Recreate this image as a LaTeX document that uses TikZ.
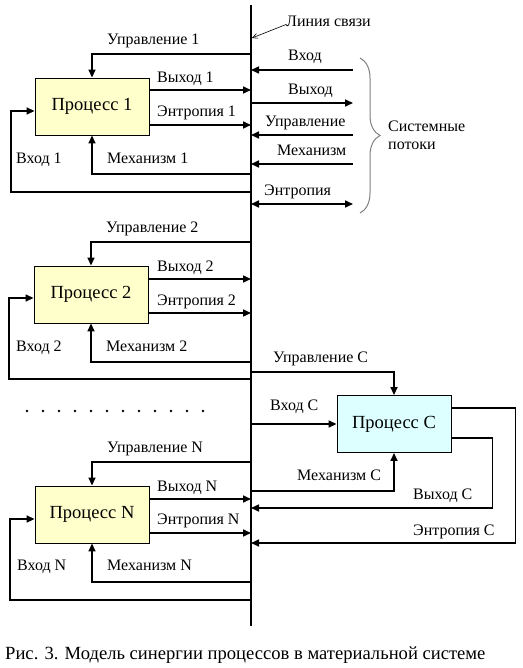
\documentclass[tikz,border=0pt]{standalone}
\usepackage{fontspec}
\setmainfont{Liberation Serif}
\usepackage{tikz}
\usetikzlibrary{arrows.meta, positioning, calc, decorations.pathreplacing}
\definecolor{procyellow}{RGB}{255,255,204}
\definecolor{proccyan}{RGB}{221,255,255}
\tikzset{
    proc_box/.style={
        rectangle, draw=black, line width=0.9pt, fill=procyellow,
        minimum width=114pt, minimum height=57pt,
        align=center, font=\fontsize{18.5}{22}\selectfont
    },
    proc_box_c/.style={
        proc_box, fill=proccyan
    },
    flow_arrow/.style={
        -{Triangle[length=8pt, width=7pt]}, draw=black, line width=1.6pt
    },
    flow_both/.style={
        {Triangle[length=8pt, width=7pt]}-{Triangle[length=8pt, width=7pt]},
        draw=black, line width=1.6pt
    },
    flow_line/.style={
        draw=black, line width=1.6pt
    },
    lbl/.style={
        anchor=west, inner sep=0pt, text height=0.7em, text depth=0.2em,
        yshift=-2.5pt, font=\fontsize{16}{18}\selectfont
    },
    brace_gray/.style={
        draw=gray, line width=1pt,
        decorate, decoration={brace, amplitude=20pt}
    }
}

\begin{document}
\begin{tikzpicture}[x=1pt, y=-1pt]
    \useasboundingbox (0,0) rectangle (522,668);

    % communication line
    \coordinate (busT) at (251,5);
    \coordinate (busB) at (251,626);
    \draw[flow_line] (busT) -- (busB);
    \node[lbl] (lsv) at (286,22) {Линия связи};
    \coordinate (lsvEnd) at (252,38);
    \draw[line width=0.6pt, -{Straight Barb[length=5pt, width=5pt]}] (lsv.west) -- (lsvEnd);

    % system flows
    \coordinate (sIn) at (353,70);
    \coordinate (sOut) at (353,103);
    \coordinate (sCtl) at (353,135);
    \coordinate (sMech) at (353,164);
    \coordinate (sEnt) at (353,204);
    \draw[flow_arrow] (sIn) -- (busT |- sIn);
    \draw[flow_arrow] (busT |- sOut) -- (sOut);
    \draw[flow_arrow] (sCtl) -- (busT |- sCtl);
    \draw[flow_arrow] (sMech) -- (busT |- sMech);
    \draw[flow_both] (busT |- sEnt) -- (sEnt);
    \node[lbl] (lIn) at (288,56) {Вход};
    \node[lbl] (lOut) at (288,90) {Выход};
    \node[lbl] (lCtl) at (265,122) {Управление};
    \node[lbl] (lMech) at (277,151) {Механизм};
    \node[lbl] (lEnt) at (264,191) {Энтропия};
    \coordinate (brT) at (360,58);
    \coordinate (brB) at (360,213);
    \draw[brace_gray] (brT) -- (brB);
    \node[lbl, align=left, text height=, text depth=] (sys) at (388,133) {Системные\\потоки};

    % process 1
    \node[proc_box] (p1) at (92,106.5) {Процесс 1};
    \coordinate (u1) at (251,54);
    \coordinate (y1) at (251,90);
    \coordinate (e1) at (251,125);
    \coordinate (m1) at (251,174);
    \coordinate (v1) at (251,192);
    \draw[flow_arrow] (u1) -| (p1.north);
    \draw[flow_arrow] (p1.east |- y1) -- (y1);
    \draw[flow_arrow] (p1.east |- e1) -- (e1);
    \draw[flow_arrow] (m1) -| (p1.south);
    \draw[flow_arrow] (v1) -- ++(-240,0) |- ([yshift=-4.5pt]p1.west);
    \node[lbl] (lu1) at (107,40) {Управление 1};
    \node[lbl] (ly1) at (157,78) {Выход 1};
    \node[lbl] (le1) at (157,112) {Энтропия 1};
    \node[lbl] (lm1) at (107,159) {Механизм 1};
    \node[lbl] (lv1) at (16,159) {Вход 1};

    % process 2
    \node[proc_box] (p2) at (91,294.5) {Процесс 2};
    \coordinate (u2) at (251,242);
    \coordinate (y2) at (251,279);
    \coordinate (e2) at (251,313);
    \coordinate (m2) at (251,362);
    \coordinate (v2) at (251,379);
    \draw[flow_arrow] (u2) -| (p2.north);
    \draw[flow_arrow] (p2.east |- y2) -- (y2);
    \draw[flow_arrow] (p2.east |- e2) -- (e2);
    \draw[flow_arrow] (m2) -| (p2.south);
    \draw[flow_arrow] (v2) -- ++(-242,0) |- ([yshift=-3.5pt]p2.west);
    \node[lbl] (lu2) at (106,227) {Управление 2};
    \node[lbl] (ly2) at (157,266) {Выход 2};
    \node[lbl] (le2) at (157,300) {Энтропия 2};
    \node[lbl] (lm2) at (106,346) {Механизм 2};
    \node[lbl] (lv2) at (16,346) {Вход 2};

    % dots
    \foreach \i in {0,...,11}
        \fill (27+16*\i,411) circle (1.4pt);

    % process C
    \node[proc_box_c] (pc) at (394,424) {Процесс С};
    \coordinate (uc) at (251,372);
    \coordinate (vc) at (251,424);
    \coordinate (mc) at (251,491);
    \coordinate (yc) at (251,508);
    \coordinate (ec) at (251,543);
    \draw[flow_arrow] (uc) -| (pc.north);
    \draw[flow_arrow] (vc) -- (pc.west);
    \draw[flow_arrow] (mc) -| (pc.south);
    \draw[flow_arrow] ($(pc.east)+(0,14)$) -- ++(41,0) |- (yc);
    \draw[flow_arrow] ($(pc.east)+(0,-16)$) -- ++(64,0) |- (ec);
    \node[lbl] (luc) at (273,357) {Управление С};
    \node[lbl] (lvc) at (270,405) {Вход С};
    \node[lbl] (lmc) at (297,475) {Механизм С};
    \node[lbl] (lyc) at (413,494) {Выход С};
    \node[lbl] (lec) at (413,530) {Энтропия С};

    % process N
    \node[proc_box] (pn) at (92,514.5) {Процесс N};
    \coordinate (un) at (251,462);
    \coordinate (yn) at (251,499);
    \coordinate (en) at (251,533);
    \coordinate (mn) at (251,582);
    \coordinate (vn) at (251,600);
    \draw[flow_arrow] (un) -| (pn.north);
    \draw[flow_arrow] (pn.east |- yn) -- (yn);
    \draw[flow_arrow] (pn.east |- en) -- (en);
    \draw[flow_arrow] (mn) -| (pn.south);
    \draw[flow_arrow] (vn) -- ++(-241,0) |- ([yshift=-4.5pt]pn.west);
    \node[lbl] (lun) at (107,447) {Управление N};
    \node[lbl] (lyn) at (157,486) {Выход N};
    \node[lbl] (len) at (157,519) {Энтропия N};
    \node[lbl] (lmn) at (107,565) {Механизм N};
    \node[lbl] (lvn) at (17,565) {Вход N};

    % caption
    \node[lbl, font=\fontsize{18.6}{21}\selectfont] (cap) at (5,654) {Рис. 3. Модель синергии процессов в материальной системе};
\end{tikzpicture}
\end{document}
